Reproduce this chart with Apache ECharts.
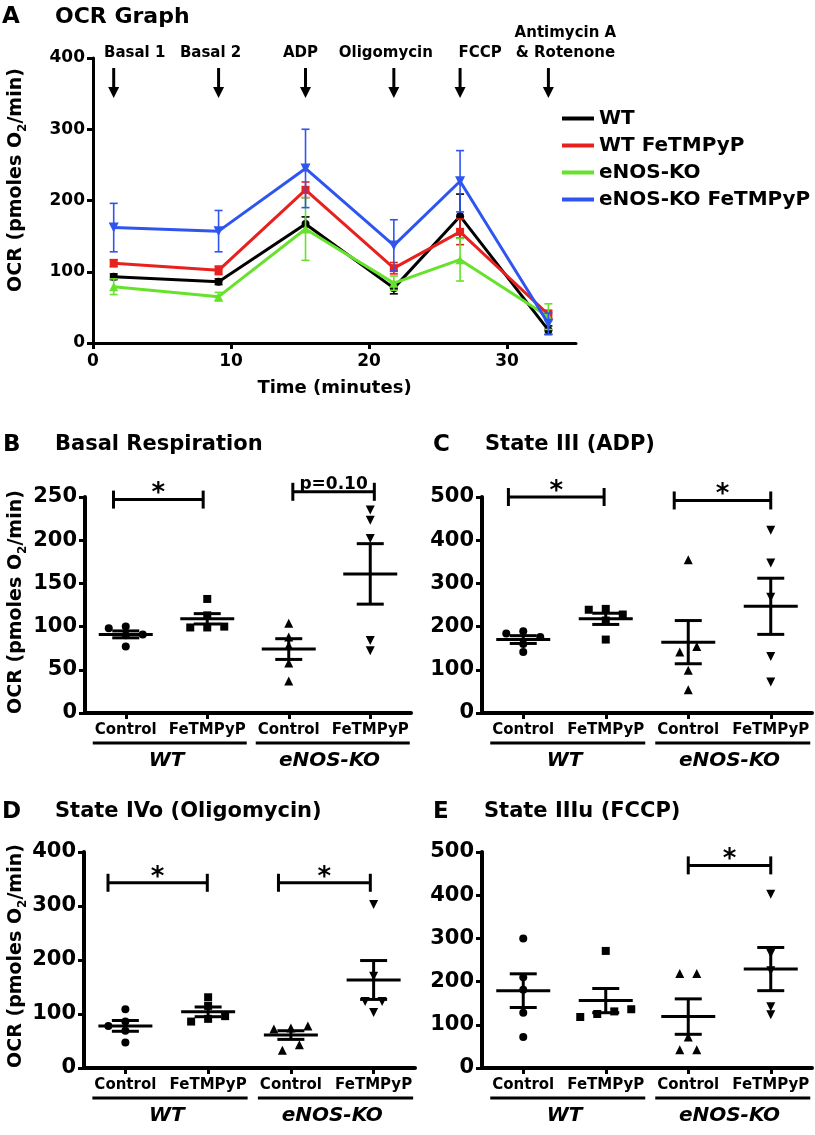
<!DOCTYPE html>
<html>
<head>
<meta charset="utf-8">
<script src="https://cdn.jsdelivr.net/npm/echarts@6/dist/echarts.min.js"></script>
<style>
html,body{margin:0;padding:0;background:#fff;}
#c{width:815px;height:1135px;}
</style>
</head>
<body>
<div id="c"></div>
<script>
// ---------------- DATA ----------------
// Panel A : OCR time course (mean ± SEM)
const timePoints = [1.5, 9.1, 15.4, 21.8, 26.6, 33.0];
const injectionLabels = ['Basal 1', 'Basal 2', 'ADP', 'Oligomycin', 'FCCP', 'Antimycin A\n& Rotenone'];
const seriesNames = ['WT', 'WT FeTMPyP', 'eNOS-KO', 'eNOS-KO FeTMPyP'];
const wtMean   = [93, 86, 167, 77, 178, 18];
const wtSem    = [4, 4, 10, 8, 31, 6];
const wtFeMean = [112, 102, 215, 105, 156, 40];
const wtFeSem  = [5, 6, 11, 8, 18, 6];
const koMean   = [79, 65, 160, 84, 117, 37];
const koSem    = [11, 6, 44, 10, 30, 18];
const koFeMean = [162, 157, 245, 137, 227, 27];
const koFeSem  = [34, 29, 55, 36, 43, 15];
const timeTicks = [0, 10, 20, 30];

// Panels B-E : individual values, mean, SEM
const categories = ['Control', 'FeTMPyP', 'Control', 'FeTMPyP'];
const genotypes = ['WT', 'eNOS-KO'];

const basalWT   = [100, 98, 91, 90, 77];
const basalWTFe = [132, 113, 100, 99, 99];
const basalKO   = [104, 88, 78, 58, 37];
const basalKOFe = [235, 223, 202, 84, 72];
const basalMean = [91, 109, 74, 161];
const basalSem  = [4, 6, 12, 35];

const adpWT   = [189, 184, 176, 160, 141];
const adpWTFe = [241, 239, 228, 214, 170];
const adpKO   = [355, 154, 141, 99, 54];
const adpKOFe = [423, 347, 268, 131, 72];
const adpMean = [170, 218, 164, 247];
const adpSem  = [9, 13, 50, 65];

const oligoWT   = [109, 86, 78, 69, 47];
const oligoWTFe = [131, 115, 96, 91, 86];
const oligoKO   = [78, 74, 72, 43, 33];
const oligoKOFe = [303, 170, 123, 123, 103];
const oligoMean = [78, 104, 61, 163];
const oligoSem  = [10, 9, 8, 36];

const fccpWT   = [300, 210, 181, 128, 72];
const fccpWTFe = [271, 136, 131, 125, 118];
const fccpKO   = [219, 219, 72, 42, 42];
const fccpKOFe = [402, 265, 225, 142, 123];
const fccpMean = [179, 156, 119, 229];
const fccpSem  = [39, 28, 41, 50];

// significance brackets: [from category, to category, level]
const basalBrackets = [[-0.15, 0.95, 247], [2.05, 3.05, 256]];
const basalBracketLabels = ['*', 'p=0.10'];
const adpBrackets = [[-0.18, 0.98, 500], [1.83, 3.0, 492]];
const adpBracketLabels = ['*', '*'];
const oligoBrackets = [[-0.21, 0.99, 343], [1.85, 2.96, 343]];
const oligoBracketLabels = ['*', '*'];
const fccpBrackets = [[2.0, 3.0, 469]];
const fccpBracketLabels = ['*'];

// ---------------- LAYOUT / STYLE ----------------
const FONT = 'DejaVu Sans';
const aColors = ['#000000', '#e8201e', '#66e22c', '#2f55f0'];
const markSymbols = ['circle', 'rect', 'triangle', 'triangle'];
const markRot = [0, 0, 0, 180];
const aSymSize = [8, 8, 9, 10];
const ptSymSize = [8, 8, 9, 9];
const injLabelDx = [21, -8, -5, -8, 20, 17];

const grids = [
  {left: 93, top: 58, width: 483, height: 285},
  {left: 85, top: 497, width: 326, height: 216},
  {left: 482, top: 497, width: 330, height: 216},
  {left: 84, top: 852, width: 331, height: 216},
  {left: 482, top: 852, width: 330, height: 216}
];

const panels = [
  {title: 'Basal Respiration', letter: 'B', groups: [basalWT, basalWTFe, basalKO, basalKOFe], mean: basalMean, sem: basalSem, max: 250, interval: 50, br: basalBrackets, brl: basalBracketLabels},
  {title: 'State III (ADP)', letter: 'C', groups: [adpWT, adpWTFe, adpKO, adpKOFe], mean: adpMean, sem: adpSem, max: 500, interval: 100, br: adpBrackets, brl: adpBracketLabels},
  {title: 'State IVo (Oligomycin)', letter: 'D', groups: [oligoWT, oligoWTFe, oligoKO, oligoKOFe], mean: oligoMean, sem: oligoSem, max: 400, interval: 100, br: oligoBrackets, brl: oligoBracketLabels},
  {title: 'State IIIu (FCCP)', letter: 'E', groups: [fccpWT, fccpWTFe, fccpKO, fccpKOFe], mean: fccpMean, sem: fccpSem, max: 500, interval: 100, br: fccpBrackets, brl: fccpBracketLabels}
];

// beeswarm-like horizontal spreading of overlapping points (pixels -> category units)
function swarm(values, pxPerUnit, catPx) {
  const D = 8, S = 17;
  const order = values.map((v, i) => i).sort((a, b) => values[b] - values[a]);
  const clusters = [];
  let cur = [order[0]];
  for (let k = 1; k < order.length; k++) {
    const prev = order[k - 1], i = order[k];
    if ((values[prev] - values[i]) * pxPerUnit < D) cur.push(i); else { clusters.push(cur); cur = [i]; }
  }
  clusters.push(cur);
  const off = new Array(values.length).fill(0);
  clusters.forEach(c => {
    const span = (values[c[0]] - values[c[c.length - 1]]) * pxPerUnit;
    if (c.length === 1) { off[c[0]] = 0; }
    else if (span < D) {
      const asc = c.slice().reverse();
      asc.forEach((i, k) => { off[i] = (k - (asc.length - 1) / 2) * S; });
    } else {
      const placed = [];
      c.forEach(i => {
        const cands = [0, -S, S, -2 * S, 2 * S];
        for (const o of cands) {
          const ok = placed.every(p => Math.hypot(p.o - o, (p.v - values[i]) * pxPerUnit) >= D);
          if (ok) { off[i] = o; placed.push({o: o, v: values[i]}); break; }
        }
      });
    }
  });
  return off.map(o => o / catPx);
}

function errRender(color, capHalf, lw) {
  return function (params, api) {
    const x = api.value(0), m = api.value(1), s = api.value(2);
    const top = api.coord([x, m + s]);
    const bot = api.coord([x, m - s]);
    const st = {stroke: color, lineWidth: lw};
    return {type: 'group', children: [
      {type: 'line', shape: {x1: top[0], y1: top[1], x2: bot[0], y2: bot[1]}, style: st},
      {type: 'line', shape: {x1: top[0] - capHalf, y1: top[1], x2: top[0] + capHalf, y2: top[1]}, style: st},
      {type: 'line', shape: {x1: bot[0] - capHalf, y1: bot[1], x2: bot[0] + capHalf, y2: bot[1]}, style: st}
    ]};
  };
}

function meanRender(params, api) {
  const x = api.value(0), m = api.value(1), s = api.value(2);
  const c = api.coord([x, m]);
  const top = api.coord([x, m + s]);
  const bot = api.coord([x, m - s]);
  const st = {stroke: '#000', lineWidth: 3};
  const hw = 27, cw = 13.5;
  return {type: 'group', children: [
    {type: 'line', shape: {x1: c[0] - hw, y1: c[1], x2: c[0] + hw, y2: c[1]}, style: st},
    {type: 'line', shape: {x1: top[0], y1: top[1], x2: bot[0], y2: bot[1]}, style: st},
    {type: 'line', shape: {x1: top[0] - cw, y1: top[1], x2: top[0] + cw, y2: top[1]}, style: st},
    {type: 'line', shape: {x1: bot[0] - cw, y1: bot[1], x2: bot[0] + cw, y2: bot[1]}, style: st}
  ]};
}

function bracketRender(labels) {
  return function (params, api) {
    const a = api.coord([api.value(0), api.value(2)]);
    const b = api.coord([api.value(1), api.value(2)]);
    const st = {stroke: '#000', lineWidth: 3};
    const lab = labels[params.dataIndex];
    const isStar = lab === '*';
    const mid = (a[0] + b[0]) / 2;
    return {type: 'group', children: [
      {type: 'line', shape: {x1: a[0], y1: a[1], x2: b[0], y2: b[1]}, style: st},
      {type: 'line', shape: {x1: a[0], y1: a[1] - 9, x2: a[0], y2: a[1] + 9}, style: st},
      {type: 'line', shape: {x1: b[0], y1: b[1] - 9, x2: b[0], y2: b[1] + 9}, style: st},
      {type: 'text', x: mid, y: isStar ? a[1] + 8 : a[1] + 1, style: {
        text: lab, fill: '#000',
        font: isStar ? 'bold 26px "DejaVu Sans"' : 'bold 17px "DejaVu Sans"',
        align: 'center', verticalAlign: 'bottom', textAlign: 'center', textVerticalAlign: 'bottom'
      }}
    ]};
  };
}

const axisLineStyle = (w) => ({show: true, onZero: false, lineStyle: {color: '#000', width: w}});

// ---------------- OPTION ----------------
const xAxis = [{
  type: 'value', gridIndex: 0, min: 0, max: 35, interval: 10,
  axisLine: axisLineStyle(3),
  axisTick: {show: true, length: 6, lineStyle: {width: 3, color: '#000'}, customValues: timeTicks},
  axisLabel: {customValues: timeTicks, fontSize: 17, fontWeight: 'bold', color: '#000', fontFamily: FONT, margin: 10},
  splitLine: {show: false},
  name: 'Time (minutes)', nameLocation: 'middle', nameGap: 36,
  nameTextStyle: {fontSize: 18, fontWeight: 'bold', color: '#000', fontFamily: FONT}
}];
const yAxis = [{
  type: 'value', gridIndex: 0, min: 0, max: 400, interval: 100,
  axisLine: axisLineStyle(3),
  axisTick: {show: true, length: 6, lineStyle: {width: 3, color: '#000'}},
  axisLabel: {fontSize: 17, fontWeight: 'bold', color: '#000', fontFamily: FONT, margin: 8},
  splitLine: {show: false}
}];
const series = [];

const aMeans = [wtMean, wtFeMean, koMean, koFeMean];
const aSems = [wtSem, wtFeSem, koSem, koFeSem];
seriesNames.forEach((n, k) => {
  series.push({
    type: 'line', name: n, xAxisIndex: 0, yAxisIndex: 0, z: 3 + k,
    data: timePoints.map((t, i) => [t, aMeans[k][i]]),
    color: aColors[k],
    lineStyle: {width: 3, color: aColors[k]},
    itemStyle: {color: aColors[k]},
    symbol: markSymbols[k], symbolRotate: markRot[k], symbolSize: aSymSize[k],
    showSymbol: true, animation: false
  });
  series.push({
    type: 'custom', xAxisIndex: 0, yAxisIndex: 0, z: 3 + k,
    data: timePoints.map((t, i) => [t, aMeans[k][i], aSems[k][i]]),
    renderItem: errRender(aColors[k], 4, 1.6)
  });
});

panels.forEach((p, idx) => {
  const gi = idx + 1;
  const g = grids[gi];
  xAxis.push({
    type: 'category', gridIndex: gi, data: categories, boundaryGap: true,
    axisLine: axisLineStyle(4),
    axisTick: {show: true, alignWithLabel: true, length: 6, lineStyle: {width: 3, color: '#000'}},
    axisLabel: {fontSize: 15, fontWeight: 'bold', color: '#000', fontFamily: FONT, margin: 10, interval: 0}
  });
  const valAxis = xAxis.length;
  xAxis.push({type: 'value', gridIndex: gi, min: -0.5, max: 3.5, show: false, axisLine: {onZero: false}});
  yAxis.push({
    type: 'value', gridIndex: gi, min: 0, max: p.max, interval: p.interval,
    axisLine: axisLineStyle(4),
    axisTick: {show: true, length: 6, lineStyle: {width: 3, color: '#000'}},
    axisLabel: {fontSize: 21, fontWeight: 'bold', color: '#000', fontFamily: FONT, margin: 8},
    splitLine: {show: false}
  });
  const pxPerUnit = g.height / p.max;
  const catPx = g.width / 4;
  p.groups.forEach((vals, k) => {
    const offs = swarm(vals, pxPerUnit, catPx);
    series.push({
      type: 'scatter', xAxisIndex: valAxis, yAxisIndex: gi, z: 4,
      data: vals.map((v, i) => [k + offs[i], v]),
      symbol: markSymbols[k], symbolRotate: markRot[k], symbolSize: ptSymSize[k],
      itemStyle: {color: '#000', opacity: 1}
    });
  });
  series.push({
    type: 'custom', xAxisIndex: valAxis, yAxisIndex: gi, z: 5,
    data: p.mean.map((m, k) => [k, m, p.sem[k]]),
    renderItem: meanRender
  });
  series.push({
    type: 'custom', xAxisIndex: valAxis, yAxisIndex: gi, z: 5,
    data: p.br.map(b => [b[0], b[1], b[2]]),
    renderItem: bracketRender(p.brl)
  });
  p.valAxis = valAxis;
});

const option = {
  animation: false,
  backgroundColor: '#fff',
  textStyle: {fontFamily: FONT},
  grid: grids.map(g => Object.assign({containLabel: false}, g)),
  legend: {
    data: seriesNames, selectedMode: false, orient: 'vertical',
    left: 557, top: 103, itemGap: 6, itemWidth: 32, itemHeight: 4, icon: 'rect',
    textStyle: {fontSize: 20, fontWeight: 'bold', color: '#000', fontFamily: FONT, lineHeight: 21}
  },
  xAxis: xAxis, yAxis: yAxis, series: series
};

const chart = echarts.init(document.getElementById('c'), null, {width: 815, height: 1135});
chart.setOption(option);

// ---------------- ANNOTATIONS (graphic) ----------------
const gr = [];
function text(x, y, t, font, align, valign, extra) {
  const el = {type: 'text', x: x, y: y, silent: true, style: Object.assign({
    text: t, font: font, fill: '#000',
    align: align, verticalAlign: valign, textAlign: align, textVerticalAlign: valign
  }, extra || {})};
  gr.push(el);
  return el;
}
const titleFont = 'bold 21px "DejaVu Sans"';
const letterFont = 'bold 23px "DejaVu Sans"';
text(2, 17, 'A', letterFont, 'left', 'middle');
text(55, 17, 'OCR Graph', 'bold 22px "DejaVu Sans"', 'left', 'middle');
const letterPos = [[3, 445], [433, 445], [2, 812], [433, 812]];
const titlePos = [[55, 445], [485, 445], [55, 812], [484, 812]];
panels.forEach((p, i) => {
  text(letterPos[i][0], letterPos[i][1], p.letter, letterFont, 'left', 'middle');
  text(titlePos[i][0], titlePos[i][1], p.title, titleFont, 'left', 'middle');
});

// Y axis titles
function yTitle(cx, cy) {
  gr.push({type: 'text', x: cx, y: cy, rotation: Math.PI / 2, silent: true, style: {
    text: 'OCR (pmoles O{sub|2}/min)', fill: '#000',
    font: 'bold 19px "DejaVu Sans"', lineHeight: 26,
    align: 'center', verticalAlign: 'middle', textAlign: 'center', textVerticalAlign: 'middle',
    rich: {sub: {fontSize: 12, fontWeight: 'bold', fontFamily: FONT, fill: '#000', verticalAlign: 'bottom', lineHeight: 26}}
  }});
}
yTitle(16, 180);
yTitle(16, 602);
yTitle(16, 956);

// injection arrows (panel A)
timePoints.forEach((t, i) => {
  const x = chart.convertToPixel({xAxisIndex: 0}, t);
  gr.push({type: 'line', silent: true, shape: {x1: x, y1: 68, x2: x, y2: 90}, style: {stroke: '#000', lineWidth: 3}});
  gr.push({type: 'polygon', silent: true, shape: {points: [[x - 5.5, 87], [x + 5.5, 87], [x, 98]]}, style: {fill: '#000'}});
  text(x + injLabelDx[i], 63, injectionLabels[i], 'bold 15px "DejaVu Sans"', 'center', 'bottom', {lineHeight: 20});
});

// genotype group labels with underlines
const meas = document.createElement('canvas').getContext('2d');
meas.font = 'bold 15px "DejaVu Sans"';
panels.forEach((p, i) => {
  const g = grids[i + 1];
  const axisY = g.top + g.height;
  for (let j = 0; j < 2; j++) {
    const x0 = chart.convertToPixel({xAxisIndex: p.valAxis}, 2 * j);
    const x1 = chart.convertToPixel({xAxisIndex: p.valAxis}, 2 * j + 1);
    const l = x0 - meas.measureText(categories[2 * j]).width / 2 - 2;
    const r = x1 + meas.measureText(categories[2 * j + 1]).width / 2 + 1;
    gr.push({type: 'line', silent: true, shape: {x1: l, y1: axisY + 30, x2: r, y2: axisY + 30}, style: {stroke: '#000', lineWidth: 3}});
    text((x0 + x1) / 2, axisY + 48, genotypes[j], 'italic bold 20px "DejaVu Sans"', 'center', 'middle');
  }
});

chart.setOption({graphic: {elements: gr}});
</script>
</body>
</html>
